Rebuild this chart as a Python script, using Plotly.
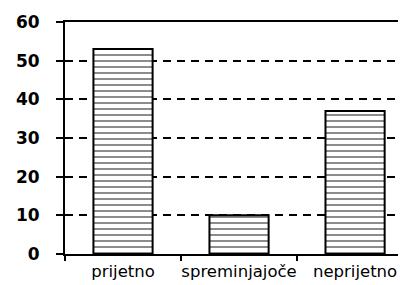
import plotly.graph_objects as go

categories = ["prijetno", "spreminjajoče", "neprijetno"]
values = [53, 10, 37]
y_ticks = [0, 10, 20, 30, 40, 50, 60]

fig = go.Figure()
fig.add_trace(go.Bar(
    x=categories, y=values, width=0.51,
    marker=dict(color="white",
                line=dict(color="black", width=2),
                pattern=dict(shape="-", fgcolor="black", bgcolor="white", size=6, solidity=0.3)),
))

fig.update_layout(
    width=400, height=285,
    margin=dict(l=65, r=2, t=22, b=31),
    paper_bgcolor="white", plot_bgcolor="white",
    showlegend=False,
    font=dict(family="DejaVu Sans", color="black"),
)
fig.update_xaxes(
    range=[-0.5, 2.37], showline=True, linecolor="black", linewidth=2, mirror=True,
    ticks="outside", tickson="boundaries", ticklen=5, tickwidth=2, tickcolor="black",
    showgrid=False, tickfont=dict(size=16.5, family="DejaVu Sans"), tickangle=0,
    ticklabelstandoff=1, automargin=False, ticklabeloverflow="allow",
)
fig.update_yaxes(
    range=[0, 60], tickvals=y_ticks, showline=True, linecolor="black", linewidth=2,
    ticks="outside", ticklen=7, tickwidth=2, tickcolor="black",
    showgrid=True, gridcolor="black", gridwidth=2, griddash="8px,6px",
    zeroline=False, tickfont=dict(size=17, family="DejaVu Sans", weight="bold"),
    ticklabelstandoff=13, automargin=False,
)
fig.write_html("out.html", config={"displayModeBar": False},
               post_script="document.body.style.margin='0';document.body.style.overflow='hidden';")
